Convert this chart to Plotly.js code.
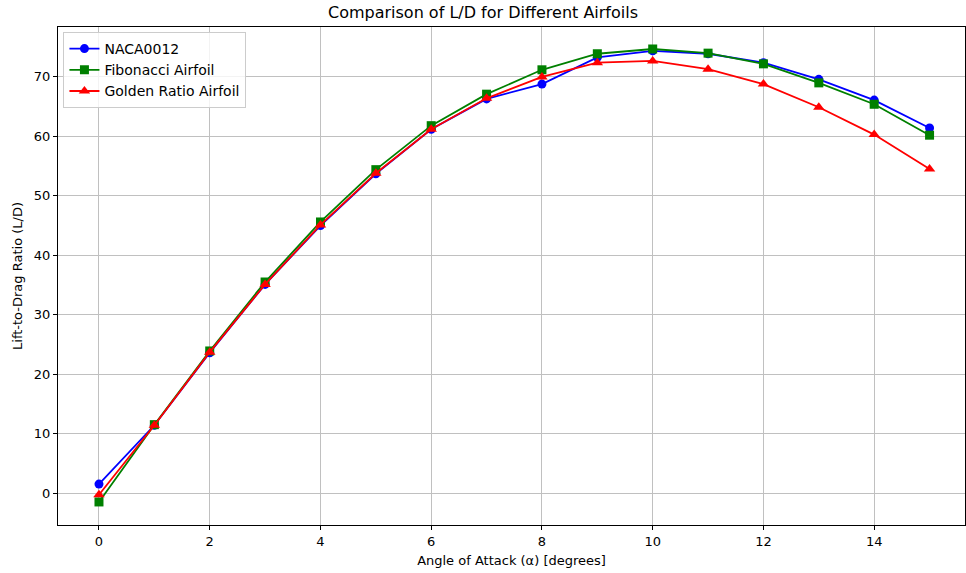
<!DOCTYPE html>
<html>
<head>
<meta charset="utf-8">
<script src="https://cdn.plot.ly/plotly-3.0.1.min.js"></script>
<style>html,body{margin:0;padding:0;background:#fff;}</style>
</head>
<body>
<div id="chart" style="width:966px;height:573px;"></div>
<script>
const angles = [0, 1, 2, 3, 4, 5, 6, 7, 8, 9, 10, 11, 12, 13, 14, 15];
const naca0012 = [1.5, 11.4, 23.6, 35.1, 45.0, 53.7, 61.2, 66.3, 68.8, 73.3, 74.4, 73.9, 72.4, 69.6, 66.1, 61.4];
const fibonacci = [-1.5, 11.5, 23.9, 35.5, 45.6, 54.4, 61.8, 67.1, 71.2, 73.9, 74.7, 74.0, 72.2, 69.0, 65.4, 60.2];
const goldenRatio = [-0.3, 11.4, 23.7, 35.1, 45.1, 53.8, 61.2, 66.4, 70.0, 72.4, 72.7, 71.3, 68.8, 64.9, 60.3, 54.5];
const seriesNames = ["NACA0012", "Fibonacci Airfoil", "Golden Ratio Airfoil"];

const font = "DejaVu Sans, sans-serif";
const traces = [
  {x: angles, y: naca0012, name: seriesNames[0], mode: "lines+markers",
   line: {color: "blue", width: 1.8}, marker: {symbol: "circle", size: 9, color: "blue"}},
  {x: angles, y: fibonacci, name: seriesNames[1], mode: "lines+markers",
   line: {color: "green", width: 1.8}, marker: {symbol: "square", size: 9, color: "green"}},
  {x: angles, y: goldenRatio, name: seriesNames[2], mode: "lines+markers",
   line: {color: "red", width: 1.8}, marker: {symbol: "triangle-up", size: 10, color: "red"}}
];
const axisCommon = {
  showgrid: true, gridcolor: "#c0c0c0", gridwidth: 1,
  showline: true, linecolor: "black", linewidth: 1, mirror: true,
  ticks: "outside", ticklen: 4, tickcolor: "black",
  zeroline: false, tickfont: {family: font, size: 13, color: "black"}
};
const layout = {
  width: 966, height: 573,
  margin: {l: 58, r: 1, t: 27, b: 48},
  paper_bgcolor: "white", plot_bgcolor: "white",
  title: {text: "Comparison of L/D for Different Airfoils", font: {family: font, size: 16, color: "black"},
          x: 0.5, xanchor: "center", y: 0.978, yanchor: "middle"},
  xaxis: Object.assign({}, axisCommon, {range: [-0.74, 15.64], tickmode: "array", tickvals: [0,2,4,6,8,10,12,14],
    title: {text: "Angle of Attack (α) [degrees]", font: {family: font, size: 13, color: "black"}, standoff: 8}}),
  yaxis: Object.assign({}, axisCommon, {range: [-5.38, 78.4], tickmode: "array", tickvals: [0,10,20,30,40,50,60,70],
    title: {text: "Lift-to-Drag Ratio (L/D)", font: {family: font, size: 13, color: "black"}, standoff: 8}}),
  legend: {x: 0.006, y: 0.99, xanchor: "left", yanchor: "top",
    bgcolor: "rgba(255,255,255,0.8)", bordercolor: "#cccccc", borderwidth: 1,
    font: {family: font, size: 14, color: "black"}, tracegroupgap: 0},
  showlegend: true
};
Plotly.newPlot("chart", traces, layout, {displayModeBar: false, staticPlot: true});
</script>
</body>
</html>
